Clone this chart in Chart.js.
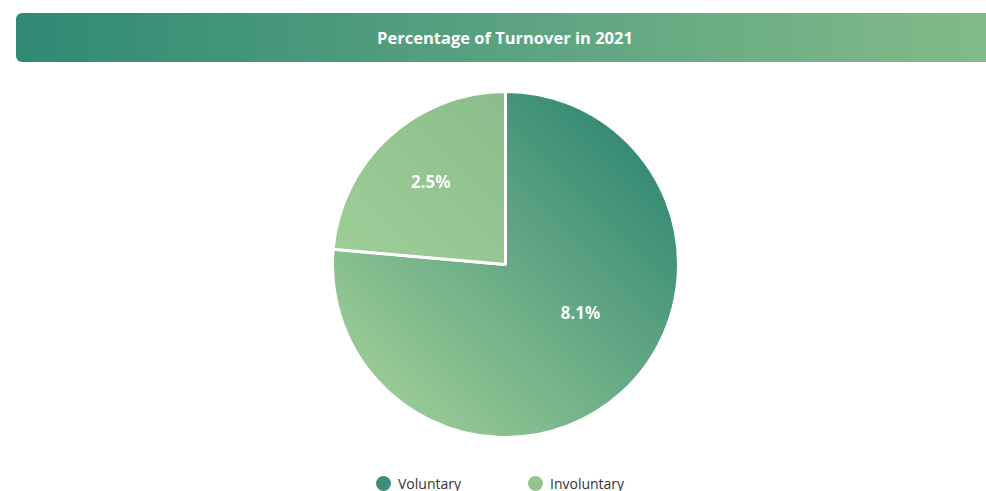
<!DOCTYPE html>
<html>
<head>
<meta charset="utf-8">
<script src="https://cdn.jsdelivr.net/npm/chart.js@4/dist/chart.umd.min.js"></script>
<style>
  html, body { margin: 0; padding: 0; background: #ffffff; overflow: hidden; }
  body { width: 986px; height: 491px; position: relative; font-family: "Open Sans", "Noto Sans", sans-serif; }
  .banner {
    position: absolute; left: 16px; top: 13px; width: 978px; height: 49px;
    border-radius: 6px;
    background: linear-gradient(90deg, #2f8a74 0%, #56a07f 45%, #83bb8a 100%);
    color: #ffffff; font-weight: 700; font-size: 16.5px;
    display: flex; align-items: center; justify-content: center;
  }
  .chart-box { position: absolute; left: 25px; top: 90px; width: 961px; height: 349px; }
  .legend { position: absolute; left: 376px; top: 474px; height: 18px; display: flex; align-items: center;
    font-size: 14px; color: #333333; }
  .legend .item { display: flex; align-items: center; }
  .legend .dot { width: 15px; height: 15px; border-radius: 50%; margin-right: 7px; }
  .legend .item + .item { margin-left: 67px; }
</style>
</head>
<body>
<div class="banner" id="title"></div>
<div class="chart-box"><canvas id="pie"></canvas></div>
<div class="legend" id="legend"></div>
<script>
const chartTitle = "Percentage of Turnover in 2021";
const categories = ["Voluntary", "Involuntary"];
const turnoverPct = [8.1, 2.5];
const legendColors = ["#3d8f78", "#93c591"];
// gradient stops per slice: [upper-right colour, lower-left colour]
const sliceGradients = [["#368b75", "#99ca95"], ["#8abd8c", "#9fcf98"]];

document.getElementById("title").textContent = chartTitle;

// legend built from the same categories and colours
const legendEl = document.getElementById("legend");
categories.forEach((name, i) => {
  const item = document.createElement("span");
  item.className = "item";
  const dot = document.createElement("span");
  dot.className = "dot";
  dot.style.background = legendColors[i];
  const txt = document.createElement("span");
  txt.textContent = name;
  item.appendChild(dot);
  item.appendChild(txt);
  legendEl.appendChild(item);
});

function sliceFill(ctx) {
  const chart = ctx.chart;
  const area = chart.chartArea;
  const stops = sliceGradients[ctx.dataIndex];
  if (!area) return stops[0];
  const cx = (area.left + area.right) / 2;
  const cy = (area.top + area.bottom) / 2;
  const r = Math.min(area.right - area.left, area.bottom - area.top) / 2;
  let g;
  if (ctx.dataIndex === 0) {
    const k = r * Math.SQRT1_2;
    g = chart.ctx.createLinearGradient(cx + k, cy - k, cx - k, cy + k);
  } else {
    g = chart.ctx.createLinearGradient(cx, cy - r, cx - r, cy);
  }
  g.addColorStop(0, stops[0]);
  g.addColorStop(1, stops[1]);
  return g;
}

// value labels placed inside each slice
const labelRadius = [0.52, 0.64];
const labelAngleShift = [-14, 0];
const sliceLabels = {
  id: "sliceLabels",
  afterDatasetsDraw(chart) {
    const c = chart.ctx;
    const meta = chart.getDatasetMeta(0);
    c.save();
    c.fillStyle = "#ffffff";
    c.font = "700 17px 'Open Sans', 'Noto Sans', sans-serif";
    c.textAlign = "center";
    c.textBaseline = "middle";
    meta.data.forEach((arc, i) => {
      const p = arc.getProps(["x", "y", "startAngle", "endAngle", "outerRadius"], true);
      const mid = (p.startAngle + p.endAngle) / 2 + labelAngleShift[i] * Math.PI / 180;
      const d = p.outerRadius * labelRadius[i];
      c.fillText(turnoverPct[i] + "%", p.x + Math.cos(mid) * d, p.y + Math.sin(mid) * d);
    });
    c.restore();
  }
};

new Chart(document.getElementById("pie"), {
  type: "pie",
  data: {
    labels: categories,
    datasets: [{
      data: turnoverPct,
      backgroundColor: sliceFill,
      borderColor: "#ffffff",
      borderWidth: 3,
      hoverOffset: 0
    }]
  },
  options: {
    responsive: true,
    maintainAspectRatio: false,
    animation: false,
    layout: { padding: 0 },
    plugins: {
      tooltip: { enabled: false },
      legend: { display: false }
    }
  },
  plugins: [sliceLabels]
});
</script>
</body>
</html>
